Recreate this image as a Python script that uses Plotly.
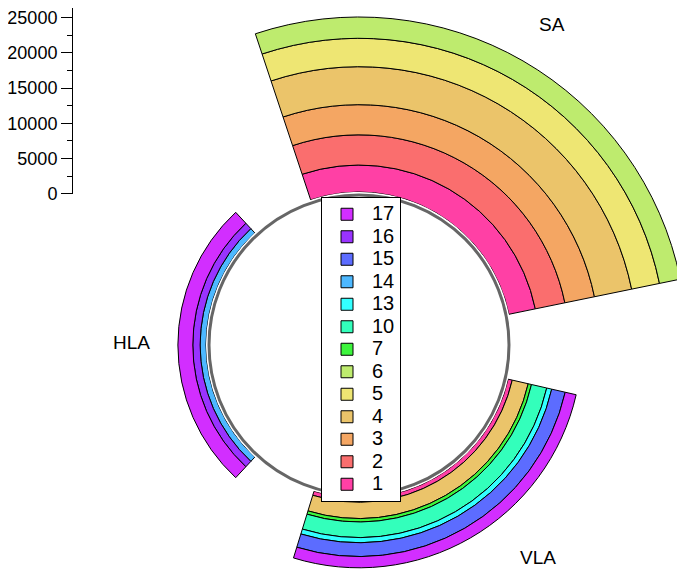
import math
import plotly.graph_objects as go

# ---------------------------------------------------------------------------
# Data
# ---------------------------------------------------------------------------
groups = ["SA", "HLA", "VLA"]
series_names = ["1", "2", "3", "4", "5", "6", "7", "10", "13", "14", "15", "16", "17"]

# values per series, in the order of groups (SA, HLA, VLA)
s1 = [3800, 0, 600]
s2 = [4250, 0, 0]
s3 = [4250, 0, 0]
s4 = [5350, 0, 2300]
s5 = [4000, 0, 0]
s6 = [3000, 0, 0]
s7 = [0, 0, 480]
s10 = [0, 0, 2200]
s13 = [0, 0, 720]
s14 = [0, 830, 0]
s15 = [0, 0, 1950]
s16 = [0, 1030, 0]
s17 = [0, 2100, 1580]
series_values = [s1, s2, s3, s4, s5, s6, s7, s10, s13, s14, s15, s16, s17]

axis_ticks = [0, 5000, 10000, 15000, 20000, 25000]

colors = ["#FF40A5", "#FA6E6E", "#F4A663", "#EBC46A", "#EEE673", "#BEEB6E",
          "#3DF53D", "#33FFBB", "#33FFFF", "#4DB8FF", "#5C6CFF", "#9933FF", "#D22EFF"]

# ---------------------------------------------------------------------------
# Geometry, in pixels of the browser window
# ---------------------------------------------------------------------------
W, H = 685, 570
PAGE_OFFSET = 8            # the page body puts the figure 8 px in from the corner
CX, CY = 359, 345          # centre of the ring
RING_R = 150               # grey ring
R_IN = 153                 # where the bars start
PX_PER_UNIT = 177.5 / 25000
R_SA = 333                 # outer radius of the SA subplot
R_LOW = 228                # outer radius of the HLA / VLA subplot
SA_SECTOR = [9, 111]
AXIS_X = 72                # the free radial scale on the left
AXIS_ZERO_Y = 193.7
AXIS_PX_PER_UNIT = 176 / 25000
FONT = "Liberation Sans, Arial, sans-serif"


def px_x(x):
    return (x - PAGE_OFFSET) / W


def px_y(y):
    return 1 - (y - PAGE_OFFSET) / H


def sector_bbox(sector):
    """Same bounding box as plotly.js computes for a polar sector."""
    s0, s1_ = sector
    a0 = s0 % 360
    a1 = a0 + (s1_ - s0)
    ax0, ay0 = math.cos(math.radians(a0)), math.sin(math.radians(a0))
    ax1, ay1 = math.cos(math.radians(a1)), math.sin(math.radians(a1))
    if (a0 <= 90 <= a1) or (a0 > 90 and a1 >= 450):
        y1 = 1
    elif ay0 <= 0 and ay1 <= 0:
        y1 = 0
    else:
        y1 = max(ay0, ay1)
    if (a0 <= 180 <= a1) or (a0 > 180 and a1 >= 540):
        x0 = -1
    elif ax0 >= 0 and ax1 >= 0:
        x0 = 0
    else:
        x0 = min(ax0, ax1)
    if (a0 <= 270 <= a1) or (a0 > 270 and a1 >= 630):
        y0 = -1
    elif ay0 >= 0 and ay1 >= 0:
        y0 = 0
    else:
        y0 = min(ay0, ay1)
    if a1 >= 360:
        x1 = 1
    elif ax0 <= 0 and ax1 <= 0:
        x1 = 0
    else:
        x1 = max(ax0, ax1)
    return x0, y0, x1, y1


def polar_domain(radius, sector):
    """Domain that puts a polar subplot of the given radius at (CX, CY)."""
    x0, y0, x1, y1 = sector_bbox(sector)
    return dict(x=[max(px_x(CX + radius * x0), 0), min(px_x(CX + radius * x1), 1)],
                y=[max(px_y(CY - radius * y0), 0), min(px_y(CY - radius * y1), 1)])


def polar_layout(radius, sector, bargap):
    return dict(
        domain=polar_domain(radius, sector),
        sector=sector,
        hole=R_IN / radius,
        bgcolor="rgba(0,0,0,0)",
        barmode="stack",
        bargap=bargap,
        radialaxis=dict(range=[0, (radius - R_IN) / PX_PER_UNIT], visible=False),
        angularaxis=dict(type="category", rotation=60, direction="counterclockwise",
                         visible=False),
    )


fig = go.Figure()

for name, vals, color in zip(series_names, series_values, colors):
    marker = dict(color=color, line=dict(color="black", width=1))
    label = '<span style="font-size:20px">' + name + '</span>'
    fig.add_trace(go.Barpolar(r=[vals[0], 0, 0], theta=groups, name=label,
                              marker=marker, subplot="polar"))
    fig.add_trace(go.Barpolar(r=[0, vals[1], vals[2]], theta=groups, name=label,
                              marker=marker, subplot="polar2", showlegend=False))

# invisible trace so that the free radial scale on the left is drawn
fig.add_trace(go.Scatter(x=[0], y=[0], mode="markers", marker=dict(opacity=0),
                         showlegend=False, hoverinfo="skip"))

fig.update_layout(
    width=W, height=H,
    margin=dict(l=0, r=0, t=0, b=0, autoexpand=False),
    paper_bgcolor="white",
    plot_bgcolor="rgba(0,0,0,0)",
    font=dict(family=FONT, size=18, color="black"),
    polar=polar_layout(R_SA, SA_SECTOR, 0.193),
    polar2=polar_layout(R_LOW, [0, 360], 0.215),
    xaxis=dict(domain=[0, 0.05], range=[0, 1], visible=False, automargin=False),
    yaxis=dict(domain=[px_y(AXIS_ZERO_Y), 1],
               range=[0, (AXIS_ZERO_Y - PAGE_OFFSET) / AXIS_PX_PER_UNIT],
               anchor="free", position=px_x(AXIS_X), side="left", automargin=False,
               showline=True, linecolor="black", linewidth=1,
               ticks="outside", ticklen=11, tickcolor="black",
               tickvals=axis_ticks, tickformat="d",
               showgrid=False, zeroline=False,
               minor=dict(dtick=2500, ticks="outside", ticklen=5, tickcolor="black"),
               tickfont=dict(size=18)),
    legend=dict(x=px_x(321), y=px_y(197), xanchor="left", yanchor="top",
                traceorder="reversed", bgcolor="white", bordercolor="black",
                borderwidth=1, font=dict(size=15), itemwidth=40),
    showlegend=True,
    annotations=[
        dict(text="SA", x=px_x(552), y=px_y(25)),
        dict(text="HLA", x=px_x(131), y=px_y(342)),
        dict(text="VLA", x=px_x(538), y=px_y(557)),
    ],
    shapes=[dict(type="circle", xref="paper", yref="paper",
                 x0=px_x(CX - RING_R), x1=px_x(CX + RING_R),
                 y0=px_y(CY + RING_R), y1=px_y(CY - RING_R),
                 line=dict(color="#666666", width=3))],
)
fig.update_annotations(xref="paper", yref="paper", xanchor="center", yanchor="middle",
                       showarrow=False, font=dict(size=19))

fig.write_html("out.html")
